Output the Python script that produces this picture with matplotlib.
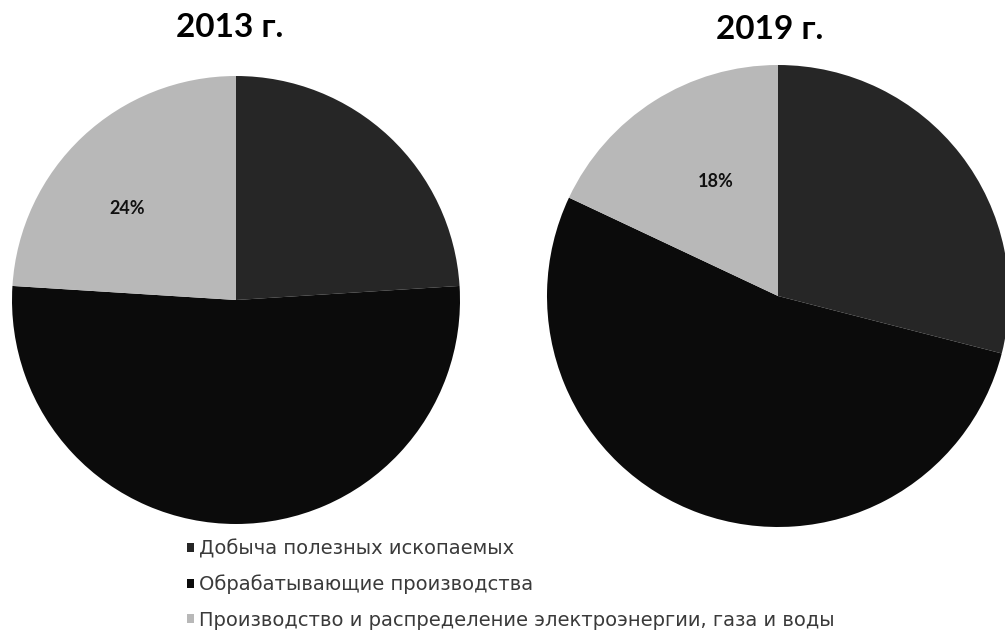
import matplotlib
matplotlib.use("Agg")
import matplotlib.pyplot as plt
import numpy as np

# ---- data ----
categories = ["Добыча полезных ископаемых",
              "Обрабатывающие производства",
              "Производство и распределение электроэнергии, газа и воды"]
years = ["2013 г.", "2019 г."]
values_2013 = [24, 52, 24]
values_2019 = [29, 53, 18]
colors = ["#262626", "#0b0b0b", "#b8b8b8"]

plt.rcParams['font.family'] = ['DejaVu Sans']

fig = plt.figure(figsize=(10.05, 6.39), dpi=100)
W, H = 1005, 639

def make_ax(cx, cy, r):
    return fig.add_axes([(cx - r) / W, (H - cy - r) / H, 2 * r / W, 2 * r / H])

def draw(ax, vals, pctd, ang_off):
    wedges, _t = ax.pie(vals, colors=colors, startangle=90, counterclock=False,
                        wedgeprops=dict(linewidth=0))
    # only the light slice carries a visible label in the original
    w = wedges[2]
    ang = np.deg2rad((w.theta1 + w.theta2) / 2 + ang_off)
    ax.text(pctd * np.cos(ang), pctd * np.sin(ang), f"{vals[2]}%",
            ha='center', va='center', fontsize=13, fontweight='bold',
            family=['Lato', 'DejaVu Sans'], color='#111111')
    ax.set_xlim(-1, 1)
    ax.set_ylim(-1, 1)
    ax.set_aspect('equal')
    ax.axis('off')
    return wedges

ax1 = make_ax(236, 300, 224)
wedges = draw(ax1, values_2013, 0.635, 7)
ax2 = make_ax(778, 296, 231)
draw(ax2, values_2019, 0.565, -4)

fig.text(230 / W, 1 - 37 / H, years[0], ha='center', va='baseline',
         fontsize=24, fontweight='bold', family=['Lato', 'DejaVu Sans'])
fig.text(770 / W, 1 - 39 / H, years[1], ha='center', va='baseline',
         fontsize=24, fontweight='bold', family=['Lato', 'DejaVu Sans'])

leg = fig.legend(wedges, categories, loc='upper left',
                 bbox_to_anchor=(187 / W, 1 - 539 / H),
                 frameon=False, fontsize=14, handlelength=0.36, handleheight=0.36,
                 handletextpad=0.28, labelspacing=0.84, borderpad=0, borderaxespad=0)
for t in leg.get_texts():
    t.set_color('#3a3a3a')

fig.savefig("out.png", dpi=100)
